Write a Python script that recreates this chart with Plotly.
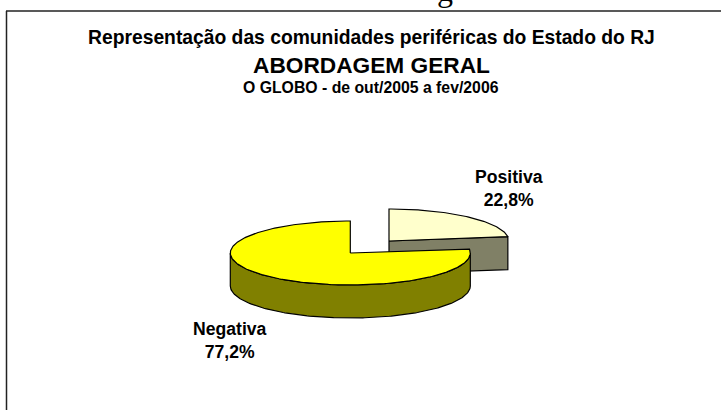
import math
import plotly.graph_objects as go

categories = ["Positiva", "Negativa"]
values = [22.8, 77.2]
value_labels = ["22,8%", "77,2%"]
title_lines = ["Representação das comunidades periféricas do Estado do RJ", "ABORDAGEM GERAL", "O GLOBO - de out/2005 a fev/2006"]
cropped_heading = "g"

W, H = 721, 410
A, B, D = 120, 32, 33
centers = [(389, 241), (350.3, 253)]
tops = ["#FFFFCC", "#FFFF00"]
sides = ["#808066", "#808000"]
LINE = dict(color="#000000", width=1.2)


def pt(c, deg, dy=0):
    r = math.radians(deg)
    return c[0] + A * math.sin(r), c[1] - B * math.cos(r) + dy


def arc(c, a0, a1, dy=0):
    n = max(2, int(abs(a1 - a0)) + 1)
    return [pt(c, a0 + (a1 - a0) * i / (n - 1), dy) for i in range(n)]


def poly(points, fill):
    xs = [p[0] for p in points] + [points[0][0]]
    ys = [p[1] for p in points] + [points[0][1]]
    return go.Scatter(x=xs, y=ys, mode="lines", fill="toself", fillcolor=fill,
                      line=LINE, hoverinfo="skip", showlegend=False)


fig = go.Figure()
total = sum(values)
start = 0
for i, v in enumerate(values):
    end = start + 360 * v / total
    c = centers[i]
    if end < 90:
        r = pt(c, end)
        fig.add_trace(poly([c, r, (r[0], r[1] + D), (c[0], c[1] + D)], sides[i]))
    a0, a1 = max(start, 90), min(end, 270)
    if a1 > a0:
        fig.add_trace(poly(arc(c, a0, a1) + arc(c, a1, a0, D), sides[i]))
    fig.add_trace(poly([c] + arc(c, start, end), tops[i]))
    start = end

annotations = []
for text, y, size in zip(title_lines, [37, 65, 87], [19.3, 22.7, 15.8]):
    annotations.append(dict(text=f"<b>{text}</b>", x=371, y=y, xref="x", yref="y", showarrow=False,
                            font=dict(family="Liberation Sans", size=size, color="#000000")))
for name, val, x, y in zip(categories, value_labels, [509, 229.5], [188, 340]):
    annotations.append(dict(text=f"<b>{name}<br>{val}</b>", x=x, y=y, xref="x", yref="y", showarrow=False,
                            font=dict(family="Liberation Sans", size=17.6, color="#000000")))
annotations.append(dict(text=cropped_heading, x=445, y=10, xref="x", yref="y", yanchor="bottom", showarrow=False,
                        font=dict(family="Liberation Serif", size=32, color="#000000")))

shapes = [
    dict(type="line", x0=6.5, x1=6.5, y0=11, y1=H, xref="x", yref="y", line=dict(color="#222222", width=1.5)),
    dict(type="line", x0=6, x1=W, y0=11, y1=11, xref="x", yref="y", line=dict(color="#222222", width=1.5)),
]

fig.update_layout(
    width=W, height=H, margin=dict(l=0, r=0, t=0, b=0), paper_bgcolor="white", plot_bgcolor="white",
    xaxis=dict(range=[0, W], visible=False, fixedrange=True),
    yaxis=dict(range=[H, 0], visible=False, fixedrange=True),
    annotations=annotations, shapes=shapes, showlegend=False,
)
fig.write_html("out.html", config=dict(displayModeBar=False),
               post_script="document.body.style.margin='0';document.body.style.overflow='hidden';")
